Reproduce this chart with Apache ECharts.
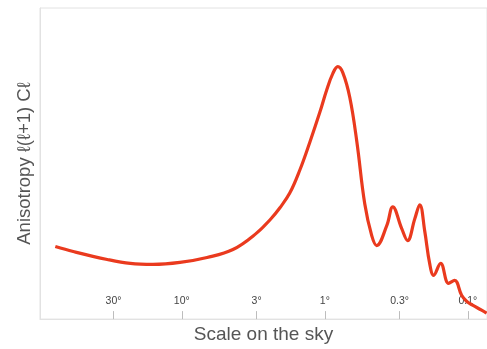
<!DOCTYPE html>
<html>
<head>
<meta charset="utf-8">
<script src="https://cdn.jsdelivr.net/npm/echarts@6/dist/echarts.min.js"></script>
<style>html,body{margin:0;padding:0;background:#fff}#c{width:487px;height:349px}</style>
</head>
<body>
<div id="c"></div>
<script>
// Angular scale on the sky (degrees) and anisotropy power l(l+1)Cl (arbitrary units)
const angles = [76.6, 57.4, 33.2, 22.9, 15.9, 10.3, 6.66, 4.39, 3.03, 2.38, 2.06, 1.755, 1.495, 1.273, 1.084,
  0.968, 0.880, 0.812, 0.749, 0.669, 0.598, 0.526, 0.470, 0.434, 0.369, 0.335, 0.290, 0.264, 0.235, 0.217,
  0.200, 0.185, 0.1735, 0.155, 0.1364, 0.1238, 0.1106, 0.1021, 0.0927, 0.0802, 0.0740];
const power = [73, 68, 60, 56, 55, 57, 62, 70, 86, 101, 112, 127, 150, 178, 208,
  231, 247, 254, 248, 223, 179, 116, 84, 74, 94, 113, 91, 79, 101, 115,
  88, 56, 44, 56, 36, 39, 24, 18, 14, 9, 6];
const tickAngles = [30, 10, 3, 1, 0.3, 0.1];
const tickLabels = ['30°', '10°', '3°', '1°', '0.3°', '0.1°'];

const chart = echarts.init(document.getElementById('c'));
const axisGray = '#e2e2e2';
const font = 'Liberation Sans, Arial, sans-serif';
chart.setOption({
  animation: false,
  grid: { left: 40, right: -2, top: 8, bottom: 28, show: true, borderColor: axisGray, borderWidth: 1 },
  xAxis: {
    type: 'log',
    inverse: true,
    min: 0.0735,
    max: 98,
    name: 'Scale on the sky',
    nameLocation: 'middle',
    nameGap: 5,
    nameTextStyle: { fontFamily: font, fontSize: 19, color: '#555' },
    axisLine: { show: true, lineStyle: { color: axisGray } },
    splitLine: { show: false },
    axisTick: { show: true, inside: true, length: 8, customValues: tickAngles, lineStyle: { color: '#bdbdbd' } },
    axisLabel: {
      show: true, inside: true, margin: 12, customValues: tickAngles,
      fontSize: 10.5, color: '#444', fontFamily: font,
      formatter: function (v) {
        for (let i = 0; i < tickAngles.length; i++) {
          if (Math.abs(Math.log10(v) - Math.log10(tickAngles[i])) < 1e-3) return tickLabels[i];
        }
        return '';
      }
    }
  },
  yAxis: {
    type: 'value',
    min: 0,
    max: 313,
    name: 'Anisotropy ℓ(ℓ+1) Cℓ',
    nameLocation: 'middle',
    nameGap: 6,
    nameTextStyle: { fontFamily: font, fontSize: 18.5, color: '#555' },
    axisLine: { show: true, lineStyle: { color: axisGray } },
    axisTick: { show: false },
    axisLabel: { show: false },
    splitLine: { show: false }
  },
  series: [{
    type: 'line',
    data: angles.map((a, i) => [a, power[i]]),
    showSymbol: false,
    smooth: 0.4,
    lineStyle: { color: '#ea3a1e', width: 3.2 },
    clip: true
  }]
});
</script>
</body>
</html>
